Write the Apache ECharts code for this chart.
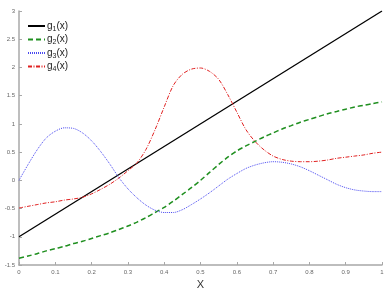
<!DOCTYPE html>
<html>
<head>
<meta charset="utf-8">
<script src="https://cdn.jsdelivr.net/npm/echarts@6/dist/echarts.min.js"></script>
<style>
  html, body { margin: 0; padding: 0; background: #fff; }
  #chart { width: 386px; height: 289px; }
</style>
</head>
<body>
<div id="chart"></div>
<script>
// x positions shared by the curves (step 0.025)
const xs = [0, 0.025, 0.05, 0.075, 0.1, 0.125, 0.15, 0.175, 0.2, 0.225, 0.25, 0.275, 0.3, 0.325, 0.35, 0.375,
  0.4, 0.425, 0.45, 0.475, 0.5, 0.525, 0.55, 0.575, 0.6, 0.625, 0.65, 0.675, 0.7, 0.725, 0.75, 0.775,
  0.8, 0.825, 0.85, 0.875, 0.9, 0.925, 0.95, 0.975, 1];

const g1X = [0, 1];
const g1Y = [-1, 3];

const g2Y = [-1.38, -1.34, -1.30, -1.25, -1.21, -1.17, -1.12, -1.08, -1.03, -0.98, -0.93, -0.87, -0.81, -0.74, -0.66, -0.57,
  -0.48, -0.37, -0.25, -0.13, 0.00, 0.14, 0.28, 0.41, 0.52, 0.61, 0.69, 0.77, 0.84, 0.91, 0.97, 1.03,
  1.08, 1.13, 1.18, 1.22, 1.26, 1.30, 1.33, 1.36, 1.39];

const g3Y = [0, 0.28, 0.54, 0.75, 0.87, 0.93, 0.92, 0.84, 0.70, 0.51, 0.29, 0.05, -0.15, -0.31, -0.44, -0.53,
  -0.57, -0.57, -0.52, -0.43, -0.33, -0.22, -0.10, 0.02, 0.12, 0.21, 0.27, 0.31, 0.33, 0.32, 0.29, 0.24,
  0.17, 0.09, 0.01, -0.07, -0.13, -0.17, -0.19, -0.20, -0.20];

const g4Y = [-0.49, -0.46, -0.43, -0.40, -0.38, -0.35, -0.33, -0.30, -0.24, -0.16, -0.07, 0.04, 0.17, 0.31, 0.55, 0.90,
  1.30, 1.68, 1.88, 1.97, 1.99, 1.93, 1.79, 1.52, 1.21, 0.90, 0.69, 0.54, 0.43, 0.37, 0.34, 0.33,
  0.33, 0.34, 0.36, 0.39, 0.41, 0.43, 0.45, 0.48, 0.50];

const names = ['g1(x)', 'g2(x)', 'g3(x)', 'g4(x)'];
const colors = ['#000000', '#1f8f1f', '#4a4af0', '#e02020'];

function pairs(x, y) {
  return x.map((v, i) => [v, y[i]]);
}

const chart = echarts.init(document.getElementById('chart'));

const axisCommon = {
  axisLine: { show: true, onZero: false, lineStyle: { color: '#a8a8a8', width: 1.5 } },
  axisTick: { show: true, inside: true, length: 3, lineStyle: { color: '#a8a8a8' } },
  splitLine: { show: false },
  nameTextStyle: { color: '#333', fontSize: 11, fontFamily: 'Liberation Sans' }
};

const option = {
  animation: false,
  grid: { left: 19, right: 4, top: 11, bottom: 24, outerBoundsMode: 'none', containLabel: false },
  legend: {
    orient: 'vertical',
    left: 27,
    top: 21,
    padding: 0,
    itemWidth: 17,
    itemHeight: 8,
    itemGap: 2,
    data: names,
    itemStyle: { opacity: 0 },
    formatter: function (name) {
      return name.replace(/g(\d)/, 'g{s|$1}');
    },
    textStyle: {
      color: '#222',
      fontSize: 10,
      fontFamily: 'Liberation Sans',
      padding: [0, 0, 0, -3],
      rich: {
        s: { fontSize: 7, padding: [6, 0, 0, 0], color: '#222', fontFamily: 'Liberation Sans' }
      }
    }
  },
  xAxis: Object.assign({
    type: 'value',
    min: 0,
    max: 1,
    interval: 0.1,
    name: 'X',
    nameLocation: 'middle',
    nameGap: 13,
    axisLabel: { color: '#666', fontSize: 6, fontFamily: 'Liberation Sans', margin: 4 }
  }, axisCommon),
  yAxis: Object.assign({
    type: 'value',
    min: -1.5,
    max: 3,
    interval: 0.5,
    name: 'g(x)',
    nameLocation: 'middle',
    nameRotate: 90,
    nameGap: 10,
    axisLabel: { color: '#666', fontSize: 6, fontFamily: 'Liberation Sans', margin: 4 }
  }, axisCommon),
  series: [
    {
      name: names[0], type: 'line', symbol: 'none',
      data: pairs(g1X, g1Y),
      lineStyle: { color: colors[0], width: 1.3, type: 'solid' },
      itemStyle: { color: colors[0] }
    },
    {
      name: names[1], type: 'line', symbol: 'none', smooth: 0.3,
      data: pairs(xs, g2Y),
      lineStyle: { color: colors[1], width: 1.5, type: [5, 3] },
      itemStyle: { color: colors[1] }
    },
    {
      name: names[2], type: 'line', symbol: 'none', smooth: 0.3,
      data: pairs(xs, g3Y),
      lineStyle: { color: colors[2], width: 1, type: [1, 1] },
      itemStyle: { color: colors[2] }
    },
    {
      name: names[3], type: 'line', symbol: 'none', smooth: 0.3,
      data: pairs(xs, g4Y),
      lineStyle: { color: colors[3], width: 1, type: [4, 1.5, 1, 1.5] },
      itemStyle: { color: colors[3] }
    }
  ]
};

chart.setOption(option);
</script>
</body>
</html>
